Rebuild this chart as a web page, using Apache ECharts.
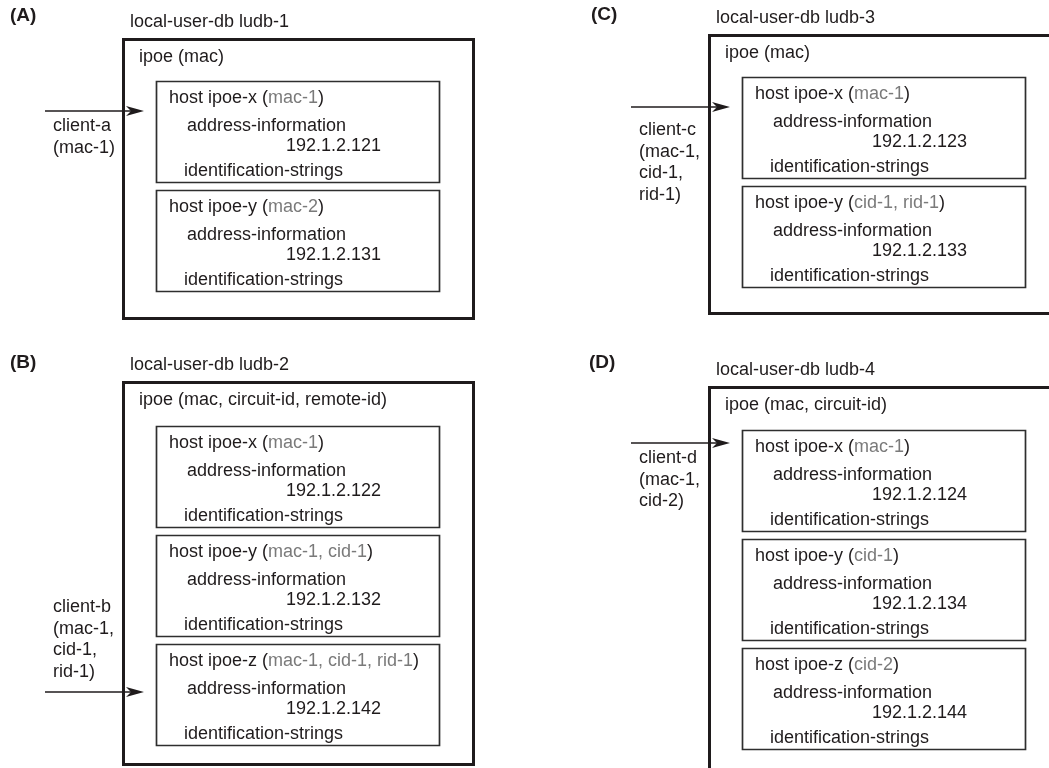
<!DOCTYPE html>
<html>
<head>
<meta charset="utf-8">
<script src="https://cdn.jsdelivr.net/npm/echarts@6/dist/echarts.min.js"></script>
<style>
  html, body { margin: 0; padding: 0; background: #fff; }
  #ec { width: 1049px; height: 768px; }
</style>
</head>
<body>
<div id="ec"></div>
<script>
  // diagram content
  const panelTags = ['(A)', '(B)', '(C)', '(D)']
  const dbNames = ['local-user-db ludb-1', 'local-user-db ludb-2', 'local-user-db ludb-3', 'local-user-db ludb-4']
  const ipoeKeys = ['mac', 'mac, circuit-id, remote-id', 'mac', 'mac, circuit-id']
  const hostNames = [
    ['ipoe-x', 'ipoe-y'],
    ['ipoe-x', 'ipoe-y', 'ipoe-z'],
    ['ipoe-x', 'ipoe-y'],
    ['ipoe-x', 'ipoe-y', 'ipoe-z']
  ]
  const hostKeys = [
    ['mac-1', 'mac-2'],
    ['mac-1', 'mac-1, cid-1', 'mac-1, cid-1, rid-1'],
    ['mac-1', 'cid-1, rid-1'],
    ['mac-1', 'cid-1', 'cid-2']
  ]
  const hostAddrs = [
    ['192.1.2.121', '192.1.2.131'],
    ['192.1.2.122', '192.1.2.132', '192.1.2.142'],
    ['192.1.2.123', '192.1.2.133'],
    ['192.1.2.124', '192.1.2.134', '192.1.2.144']
  ]
  const clientNames = ['client-a', 'client-b', 'client-c', 'client-d']
  const clientKeys = [['mac-1'], ['mac-1', 'cid-1', 'rid-1'], ['mac-1', 'cid-1', 'rid-1'], ['mac-1', 'cid-2']]

  // where each panel sits (axis units = px)
  const layout = [
    { x: 122, y: 38, w: 350, h: 282, tagX: 10, tagY: 16, hostTop: 43, arrowY: 73, clientY: 88 },
    { x: 122, y: 381, w: 350, h: 385, tagX: 10, tagY: 363, hostTop: 45, arrowY: 311, clientY: 226 },
    { x: 708, y: 34, w: 400, h: 281, tagX: 591, tagY: 15, hostTop: 43, arrowY: 73, clientY: 96 },
    { x: 708, y: 386, w: 400, h: 420, tagX: 589, tagY: 363, hostTop: 44, arrowY: 57, clientY: 72 }
  ]
  const HOST_LEFT = 34, HOST_W = 283, HOST_H = 101, HOST_PITCH = 109
  const INK = '#1f1b1c', GREY = '#7a7a7a'
  const FONT = '18px "Liberation Sans", Arial, sans-serif'

  function renderItem(params, api) {
    const p = api.value(0)
    const L = layout[p]
    const children = []
    const pt = (x, y) => api.coord([x, y])
    const text = (x, y, str, extra) => {
      const c = pt(x, y)
      return {
        type: 'text',
        style: Object.assign({ x: c[0], y: c[1], text: str, font: FONT, fill: INK, verticalAlign: 'middle' }, extra || {})
      }
    }
    const rect = (x, y, w, h, lw, color) => {
      const c = pt(x, y)
      const s = api.size([w, h])
      return {
        type: 'rect',
        shape: { x: c[0], y: c[1], width: s[0], height: s[1] },
        style: { fill: 'none', stroke: color, lineWidth: lw }
      }
    }

    children.push(text(L.tagX, L.tagY, panelTags[p], { font: 'bold 19px "Liberation Sans", Arial, sans-serif' }))
    children.push(text(L.x + 8, L.y - 16, dbNames[p]))
    children.push(rect(L.x + 1.5, L.y + 1.5, L.w, L.h - 3, 3, INK))
    children.push(text(L.x + 17, L.y + 19, 'ipoe (' + ipoeKeys[p] + ')'))

    hostNames[p].forEach((name, i) => {
      const hx = L.x + HOST_LEFT
      const hy = L.y + L.hostTop + i * HOST_PITCH
      children.push(rect(hx + 0.5, hy + 0.5, HOST_W, HOST_H, 1.7, '#2e2e2e'))
      children.push(text(hx + 13, hy + 17, 'host ' + name + ' ({k|' + hostKeys[p][i] + '})', {
        rich: { k: { fill: GREY, font: FONT } }
      }))
      children.push(text(hx + 31, hy + 45, 'address-information'))
      children.push(text(hx + 130, hy + 65, hostAddrs[p][i]))
      children.push(text(hx + 28, hy + 90, 'identification-strings'))
    })

    // client arrow
    const ay = L.y + L.arrowY
    const x0 = L.x - 77
    const tip = L.x + HOST_LEFT - 12
    const a = pt(x0, ay), b = pt(tip - 8, ay), t = pt(tip, ay)
    children.push({
      type: 'line',
      shape: { x1: a[0], y1: a[1], x2: b[0], y2: b[1] },
      style: { stroke: INK, lineWidth: 1.5 }
    })
    children.push({
      type: 'polygon',
      shape: { points: [t, [t[0] - 18, t[1] - 5], [t[0] - 13, t[1]], [t[0] - 18, t[1] + 5]] },
      style: { fill: INK }
    })

    const keys = clientKeys[p]
    const lines = [clientNames[p]].concat(keys.map((k, i) =>
      (i === 0 ? '(' : '') + k + (i === keys.length - 1 ? ')' : ',')))
    lines.forEach((ln, i) => {
      children.push(text(L.x - 69, L.y + L.clientY + i * 21.6, ln))
    })

    return { type: 'group', children }
  }

  const ec = echarts.init(document.getElementById('ec'))
  ec.setOption({
    animation: false,
    grid: { left: 0, right: 0, top: 0, bottom: 0 },
    xAxis: { type: 'value', min: 0, max: 1049, show: false },
    yAxis: { type: 'value', min: 0, max: 768, inverse: true, show: false },
    series: [{
      type: 'custom',
      coordinateSystem: 'cartesian2d',
      clip: false,
      silent: true,
      data: panelTags.map((t, i) => [i, 0]),
      renderItem
    }]
  })
  window.addEventListener('resize', ec.resize)
</script>
</body>
</html>
